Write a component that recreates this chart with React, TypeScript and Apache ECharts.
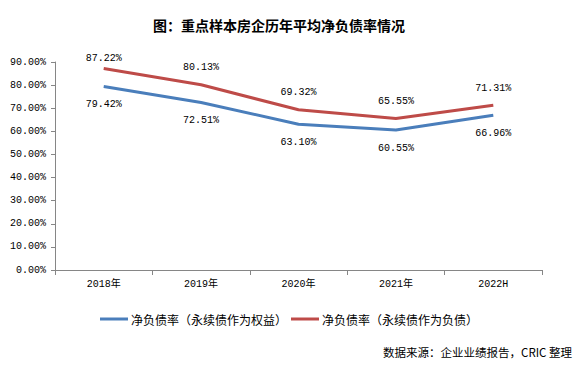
import React, { useEffect, useRef } from "react";
import * as echarts from "echarts";

const categories = ["2018年", "2019年", "2020年", "2021年", "2022H"];
const equitySeries = [79.42, 72.51, 63.1, 60.55, 66.96];
const debtSeries = [87.22, 80.13, 69.32, 65.55, 71.31];
const seriesNames = ["净负债率（永续债作为权益）", "净负债率（永续债作为负债）"];
const titleText = "图：重点样本房企历年平均净负债率情况";
const sourceText = "数据来源：企业业绩报告，CRIC 整理";

const MONO = "'Liberation Mono', 'Noto Sans CJK SC', monospace";
const CJK = "'Noto Sans CJK SC', sans-serif";

export default function App() {
  const ref = useRef<HTMLDivElement>(null);
  useEffect(() => {
    document.body.style.margin = "0";
    const chart = echarts.init(ref.current!, undefined, { renderer: "svg" });
    const labelFmt = (p: any) => Number(p.value).toFixed(2) + "%";
    const debtData = debtSeries.map((v, i) =>
      i === 0 ? { value: v, label: { distance: 5 } } : { value: v }
    );
    chart.setOption({
      animation: false,
      backgroundColor: "#ffffff",
      title: {
        text: titleText,
        left: 148,
        top: 13,
        textStyle: { fontFamily: CJK, fontSize: 14, fontWeight: "bold", color: "#000" },
      },
      grid: { left: 55, right: 38, top: 62, bottom: 104 },
      legend: {
        left: 95,
        top: 308,
        icon: "rect",
        itemWidth: 28,
        itemHeight: 3,
        itemGap: 4,
        data: seriesNames,
        textStyle: { fontFamily: CJK, fontSize: 12, color: "#000", padding: [0, 0, 0, -2] },
      },
      xAxis: {
        type: "category",
        data: categories,
        boundaryGap: true,
        axisLine: { lineStyle: { color: "#868686", width: 1 } },
        axisTick: { show: true, length: 5, lineStyle: { color: "#868686" } },
        axisLabel: { fontFamily: MONO, fontSize: 10, color: "#000", margin: 9 },
      },
      yAxis: {
        type: "value",
        min: 0,
        max: 90,
        interval: 10,
        splitLine: { show: false },
        axisLine: { show: true, lineStyle: { color: "#868686", width: 1 } },
        axisTick: { show: true, length: 4, lineStyle: { color: "#868686" } },
        axisLabel: {
          fontFamily: MONO,
          fontSize: 10,
          color: "#000",
          margin: 9,
          formatter: (v: number) => v.toFixed(2) + "%",
        },
      },
      series: [
        {
          name: seriesNames[0],
          type: "line",
          data: equitySeries,
          symbol: "circle",
          symbolSize: 0,
          showSymbol: true,
          lineStyle: { color: "#4a7ebb", width: 3 },
          itemStyle: { color: "#4a7ebb" },
          label: {
            show: true,
            position: "bottom",
            distance: 13,
            fontFamily: MONO,
            fontSize: 10,
            color: "#000",
            formatter: labelFmt,
          },
        },
        {
          name: seriesNames[1],
          type: "line",
          data: debtData,
          symbol: "circle",
          symbolSize: 0,
          showSymbol: true,
          lineStyle: { color: "#be4b48", width: 3 },
          itemStyle: { color: "#be4b48" },
          label: {
            show: true,
            position: "top",
            distance: 12,
            fontFamily: MONO,
            fontSize: 10,
            color: "#000",
            formatter: labelFmt,
          },
        },
      ],
      graphic: [
        {
          type: "text",
          right: 8,
          top: 346,
          style: { text: sourceText, fontFamily: CJK, fontSize: 11.5, fill: "#000" },
        },
      ],
    });
    return () => chart.dispose();
  }, []);
  return <div ref={ref} style={{ width: 580, height: 374 }} />;
}
